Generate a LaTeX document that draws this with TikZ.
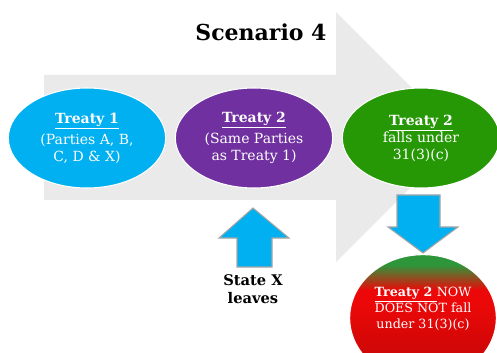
\documentclass[tikz,border=0pt]{standalone}
\usepackage{fontspec}
\setmainfont{DejaVu Serif}
\usetikzlibrary{shapes.geometric}
\definecolor{bgarrow}{RGB}{234,234,234}
\definecolor{tblue}{RGB}{0,176,240}
\definecolor{tpurple}{RGB}{112,48,160}
\definecolor{tgreen}{RGB}{38,152,6}
\definecolor{sgreen}{RGB}{46,150,58}
\definecolor{sred}{RGB}{236,8,8}
\definecolor{sdark}{RGB}{196,10,10}
\pgfdeclareverticalshading{redgreen}{100bp}{color(0bp)=(sdark); color(28bp)=(sdark); color(40bp)=(sred!90!black); color(56bp)=(sred); color(61bp)=(sred); color(66bp)=(sred!50!sgreen); color(71bp)=(sgreen); color(100bp)=(sgreen)}
\tikzset{
  ell/.style={ellipse, draw=white, line width=0.8pt, minimum width=118pt, minimum height=75pt, inner sep=0pt, text=white, align=center, font=\fontsize{10.5}{12.75}\selectfont},
  blockarrow/.style={fill=tblue, draw=gray!70, line width=0.8pt},
  lbl/.style={align=center, inner sep=0pt}
}
\begin{document}
\begin{tikzpicture}[x=0.75pt,y=-0.75pt]
\useasboundingbox (0,0) rectangle (497,353);
% big background arrow
\fill[bgarrow] (44,75) -- (336,75) -- (336,12) -- (461,137) -- (336,262) -- (336,200) -- (44,200) -- cycle;
\node[lbl, font=\fontsize{16.5}{18}\selectfont\bfseries] (title) at (261,32) {Scenario 4};
% ellipses
\node[ell, fill=tblue] (t1) at (87,138) {\textbf{\underline{Treaty 1}}\\[3pt](Parties A, B,\\C, D \& X)};
\node[ell, fill=tpurple] (t2) at (254,138) {\textbf{\underline{Treaty 2}}\\[3pt](Same Parties\\as Treaty 1)};
\node[ell, fill=tgreen] (t3) at (421,138) {\textbf{\underline{Treaty 2}}\\falls under\\31(3)(c)};
% down arrow
\fill[blockarrow] (397,195) -- (440,195) -- (440,227) -- (458,227) -- (423,253) -- (388,227) -- (397,227) -- cycle;
% up arrow
\fill[blockarrow] (237,267) -- (272,267) -- (272,238) -- (289,238) -- (253,208) -- (219,238) -- (237,238) -- cycle;
\node[lbl, font=\fontsize{11}{13.5}\selectfont\bfseries] (sx) at (253,289) {State X\\leaves};
% red ellipse
\node[ellipse, draw=white, line width=0.8pt, shading=redgreen, minimum width=110pt, minimum height=95pt, inner sep=0pt] (t4) at (423,318) {};
\node[lbl, text=white, font=\fontsize{9.5}{12}\selectfont] (t4t) at (423,309) {\textbf{\underline{Treaty 2 }}NOW\\DOES NOT fall\\under 31(3)(c)};
\end{tikzpicture}
\end{document}
